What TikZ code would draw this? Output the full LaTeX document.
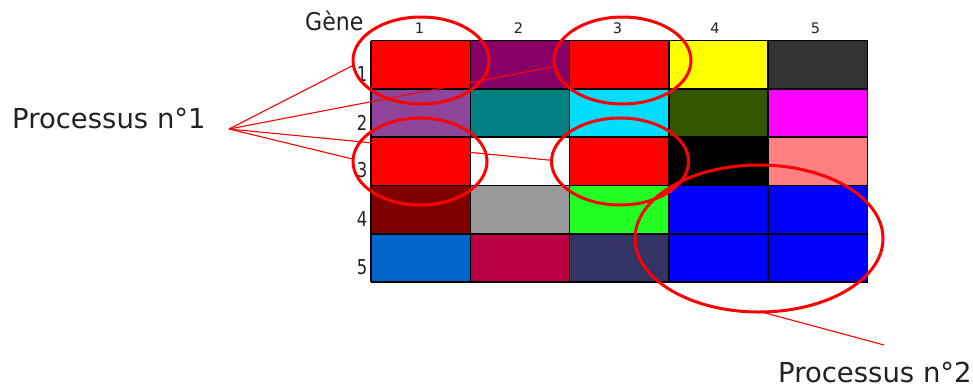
\documentclass[tikz,border=0pt]{standalone}
\usepackage{fontspec}
\setmainfont{DejaVu Sans}
\newfontfamily\narrowfont[FakeStretch=0.8]{DejaVu Sans}
\newfontfamily\genefont[FakeStretch=0.9]{DejaVu Sans}
\usetikzlibrary{shapes.geometric}
\definecolor{txt}{HTML}{222222}
\begin{document}
\begin{tikzpicture}[x=1pt,y=-1pt,
  ring/.style={ellipse, draw=red, line width=3pt, inner sep=0pt, outer sep=0pt},
  conn/.style={draw=red, line width=1.1pt},
  biglab/.style={font=\fontsize{27.5}{30}\selectfont, text=txt, inner sep=0pt, anchor=base west},
  collab/.style={font=\fontsize{14.5}{16}\selectfont, text=txt, inner sep=0pt},
  rowlab/.style={font=\narrowfont\fontsize{20.5}{22}\selectfont, text=txt, inner sep=0pt, anchor=east},
  genelab/.style={font=\genefont\fontsize{24.5}{26}\selectfont, text=txt, inner sep=0pt, anchor=base west},
  gridline/.style={draw=black, line width=1.6pt},
]
\useasboundingbox (0,0) rectangle (973,389);
% cells
\foreach \r/\row in {
  0/{FF0000,880066,FF0000,FFFF00,333333},
  1/{8E4499,008080,00DDFF,335500,FF00FF},
  2/{FF0000,FFFFFF,FF0000,000000,FF8080},
  3/{800000,9A989A,22FF22,0000FF,0000FF},
  4/{0066CC,BB0044,333366,0000FF,0000FF}}{
  \foreach \c [count=\k from 0] in \row {
    \definecolor{cellcol}{HTML}{\c}
    \fill[cellcol] ({371+99.3*\k},{40.5+48.3*\r}) rectangle ({371+99.3*(\k+1)},{40.5+48.3*(\r+1)});
  }
}
% grid lines
\foreach \k in {0,...,5} \draw[gridline] ({371+99.3*\k},40.5) -- ({371+99.3*\k},282);
\foreach \r in {0,...,5} \draw[gridline] (371,{40.5+48.3*\r}) -- (867.5,{40.5+48.3*\r});
% labels
\node[genelab] (gene) at (305,30) {Gène};
\foreach \x [count=\n] in {419.5,518.5,617.5,715,815.5}
  \node[collab] (col\n) at (\x,28) {\n};
\foreach \y [count=\n] in {74,122.5,170,219.5,267.5}
  \node[rowlab] (row\n) at (367.5,\y) {\n};
\node[biglab] (p1) at (12,128) {Processus n°1};
\node[biglab] (p2) at (778,382) {Processus n°2};
% ellipses
\node[ring, minimum width=136pt, minimum height=87pt] (e1) at (421,60.5) {};
\node[ring, minimum width=137pt, minimum height=87pt] (e2) at (622.5,60.5) {};
\node[ring, minimum width=134pt, minimum height=87pt] (e3) at (420,161.5) {};
\node[ring, minimum width=137pt, minimum height=87pt] (e4) at (620,161.5) {};
\node[ring, minimum width=248pt, minimum height=147pt] (e5) at (759,238.5) {};
% connectors
\coordinate (hub) at (229,129);
\coordinate (p2end) at (884,345);
\draw[conn] (hub) -- (e1.184);
\draw[conn] (hub) -- (e2.185);
\draw[conn] (hub) -- (e4.179);
\draw[conn] (hub) -- (e3.178);
\draw[conn] (e5.272) -- (p2end);
\end{tikzpicture}
\end{document}
